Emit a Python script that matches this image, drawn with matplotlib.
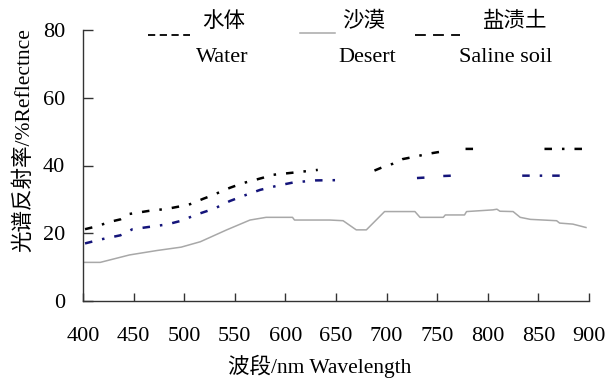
import numpy as np
import matplotlib
matplotlib.use("Agg")
import matplotlib.pyplot as plt
from matplotlib.lines import Line2D

plt.rcParams['font.family'] = ['Liberation Serif', 'Noto Sans CJK SC']

nan = np.nan

# water spectrum (gaps as in the source figure)
wl_water = [402, 413, 427, 437, 446, 465, 483, 497, 506, 519, 527, 545, 558, 567,
            578, 586, 608, 632, nan, 688, 696, 706, 716, 728, 740, 752, nan,
            778, 794, nan, 856, 897]
r_water = [21.2, 22.0, 23.4, 24.1, 25.7, 26.6, 27.2, 28.0, 28.6, 30.2, 31.1, 33.4, 34.8, 35.5,
           36.4, 37.2, 37.9, 38.7, nan, 38.5, 39.5, 40.5, 41.9, 42.6, 43.4, 44.0, nan,
           44.9, 44.9, nan, 44.9, 44.9]

# desert spectrum
wl_desert = [400, 417, 446, 473, 497, 516, 542, 565, 581, 607, 609, 644, 657, 670, 680,
             698, 728, 733, 756, 758, 777, 779, 805, 809, 812, 825, 832, 842, 868,
             871, 884, 897]
r_desert = [11.4, 11.4, 13.6, 14.9, 15.9, 17.5, 21.0, 23.9, 24.7, 24.7, 23.9, 23.9, 23.7, 21.0, 21.0,
            26.4, 26.4, 24.7, 24.7, 25.4, 25.4, 26.4, 26.9, 27.1, 26.5, 26.4, 24.7, 24.1, 23.7,
            23.0, 22.7, 21.7]

# saline soil spectrum
wl_saline = [402, 418, 437, 449, 466, 483, 496, 514, 530, 545, 560, 575, 593, 608, 630, 658,
             nan, 730, 742, nan, 756, 773, nan, 834, 875]
r_saline = [17.0, 18.2, 19.4, 21.2, 21.9, 22.6, 23.6, 25.7, 27.3, 29.5, 31.2, 32.8, 34.1, 35.0, 35.6, 35.7,
            nan, 36.3, 36.5, nan, 36.9, 37.1, nan, 37.0, 37.0]

xticks = list(range(400, 901, 50))
yticks = [0, 20, 40, 60, 80]

W, H = 606, 378
fig = plt.figure(figsize=(W / 100, H / 100), dpi=100)
ax = fig.add_axes([83 / W, (H - 301) / H, (589 - 83) / W, (301 - 30) / H])

ax.plot(wl_desert, r_desert, color='#a8a8a8', lw=1.1)
ax.plot(wl_water, r_water, color='black', lw=1.8, linestyle=(0, (3, 4, 1, 4)))
ax.plot(wl_saline, r_saline, color='#14147a', lw=1.8, linestyle=(0, (3, 4, 1, 4)))

ax.set_xlim(400, 900)
ax.set_ylim(0, 80)
ax.set_xticks(xticks)
ax.set_yticks(yticks)
ax.spines['top'].set_visible(False)
ax.spines['right'].set_visible(False)
for s in ['left', 'bottom']:
    ax.spines[s].set_color('#333333')
    ax.spines[s].set_linewidth(1.0)
ax.tick_params(axis='x', direction='in', length=6, width=1, color='#333333',
               labelsize=16, pad=19)
ax.tick_params(axis='y', direction='in', length=7, width=1, color='#333333',
               labelsize=16, pad=13)

fig.text(320 / W, 1 - 366 / H, '波段/nm Wavelength', ha='center', va='center', fontsize=15.5)
fig.text(24 / W, 1 - 140 / H, '光谱反射率/%Reflectnce', ha='center', va='center',
         rotation=90, fontsize=15.5)

# legend drawn as text above the plot
def fx(px):
    return px / W

def fy(py):
    return 1 - py / H

fig.lines.append(Line2D([fx(148), fx(190)], [fy(35), fy(35)], transform=fig.transFigure,
                        color='black', lw=1.3, linestyle=(0, (4, 2.5))))
fig.lines.append(Line2D([fx(300), fx(335)], [fy(33), fy(33)], transform=fig.transFigure,
                        color='#a8a8a8', lw=1.1))
fig.lines.append(Line2D([fx(415), fx(460)], [fy(35), fy(35)], transform=fig.transFigure,
                        color='black', lw=1.3, linestyle=(0, (6, 4))))

fig.text(fx(224), fy(22), '水体', ha='center', va='center', fontsize=15.5)
fig.text(fx(222), fy(58), 'Water', ha='center', va='center', fontsize=16)
fig.text(fx(364), fy(22), '沙漠', ha='center', va='center', fontsize=15.5)
fig.text(fx(367), fy(58), 'Desert', ha='center', va='center', fontsize=16)
fig.text(fx(515), fy(22), '盐渍土', ha='center', va='center', fontsize=15.5)
fig.text(fx(506), fy(58), 'Saline soil', ha='center', va='center', fontsize=16)

fig.savefig('out.png', dpi=100)
